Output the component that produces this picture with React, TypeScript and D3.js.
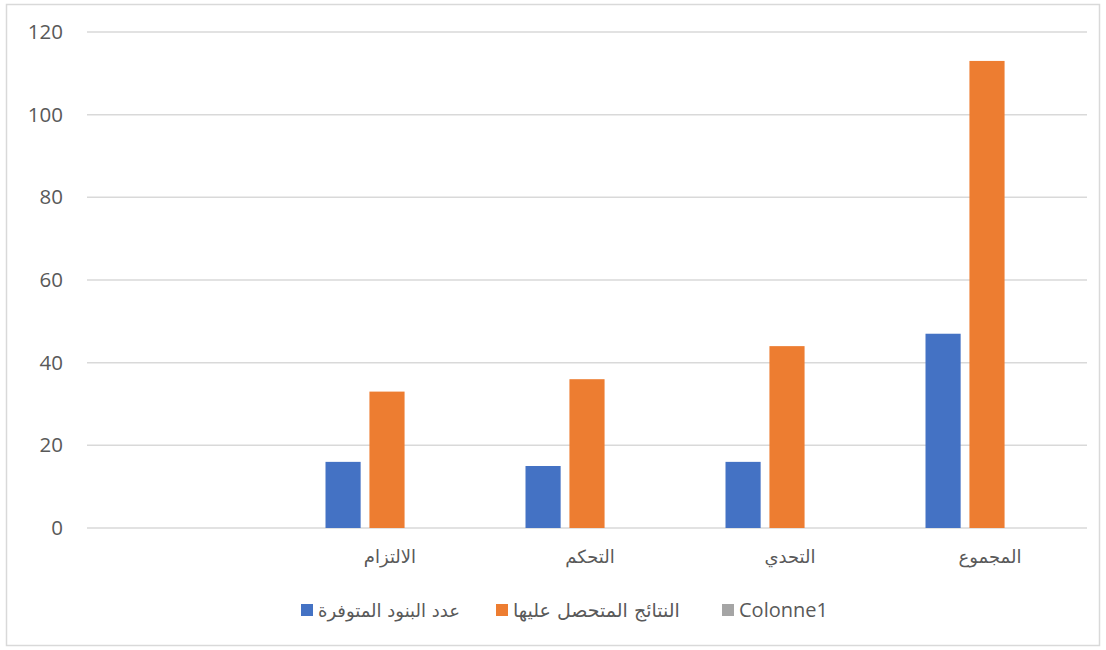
import React from "react";
import * as d3 from "d3";

const categories = ["", "الالتزام", "التحكم", "التحدي", "المجموع"];
const seriesNames = ["عدد البنود المتوفرة", "النتائج المتحصل عليها", "Colonne1"];
const seriesA = [null, 16, 15, 16, 47];
const seriesB = [null, 33, 36, 44, 113];
const seriesC = [null, null, null, null, null];
const yTicks = [0, 20, 40, 60, 80, 100, 120];
const colors = ["#4472C4", "#ED7D31", "#A5A5A5"];

const W = 1106;
const H = 650;
const left = 87;
const right = 1087;
const top = 32;
const bottom = 528;

export default function App() {
  const x = d3.scaleBand<string>().domain(categories.map((c, i) => String(i))).range([left, right]).paddingInner(0).paddingOuter(0);
  const y = d3.scaleLinear().domain([0, 120]).range([bottom, top]);
  const allSeries = [seriesA, seriesB, seriesC];
  const groupW = 123;
  const sub = d3.scaleBand<number>().domain([0, 1, 2]).range([-groupW / 2, groupW / 2]).paddingInner(0.2);
  const fontNum = "'Open Sans', 'DejaVu Sans', sans-serif";
  const fontAr = "'DejaVu Sans', 'Open Sans', sans-serif";
  const legendX = [301, 496, 722];
  const legendSize = [18, 19, 20];
  return (
    <div style={{ position: "fixed", left: 0, top: 0 }}>
      <svg width={W} height={H} style={{ display: "block", background: "#fff" }}>
        <rect x={6.5} y={4.5} width={1093} height={641} fill="#fff" stroke="#d9d9d9" strokeWidth={1.5} />
        {yTicks.map((t) => (
          <g key={t}>
            <line x1={left} x2={right} y1={y(t)} y2={y(t)} stroke="#d9d9d9" strokeWidth={1.5} />
            <text x={63} y={y(t) + 7} textAnchor="end" fontFamily={fontNum} fontSize={20.5} fill="#595959">
              {t}
            </text>
          </g>
        ))}
        {categories.map((c, i) => {
          const cx = (x(String(i)) as number) + x.bandwidth() / 2;
          return (
            <g key={i}>
              {allSeries.map((s, si) => {
                const v = s[i];
                if (v == null) return null;
                const bx = cx + (sub(si) as number);
                return (
                  <rect key={si} x={bx} y={y(v)} width={sub.bandwidth()} height={y(0) - y(v)} fill={colors[si]} />
                );
              })}
              <text x={cx + 3} y={563} textAnchor="middle" fontFamily={fontAr} fontSize={18} fill="#595959">
                {c}
              </text>
            </g>
          );
        })}
        {seriesNames.map((n, i) => (
          <g key={i}>
            <rect x={legendX[i]} y={604} width={12} height={12} fill={colors[i]} />
            <text x={legendX[i] + 17} y={617} textAnchor="start" fontFamily={i === 2 ? fontNum : fontAr} fontSize={legendSize[i]} fill="#595959">
              {n}
            </text>
          </g>
        ))}
      </svg>
    </div>
  );
}
